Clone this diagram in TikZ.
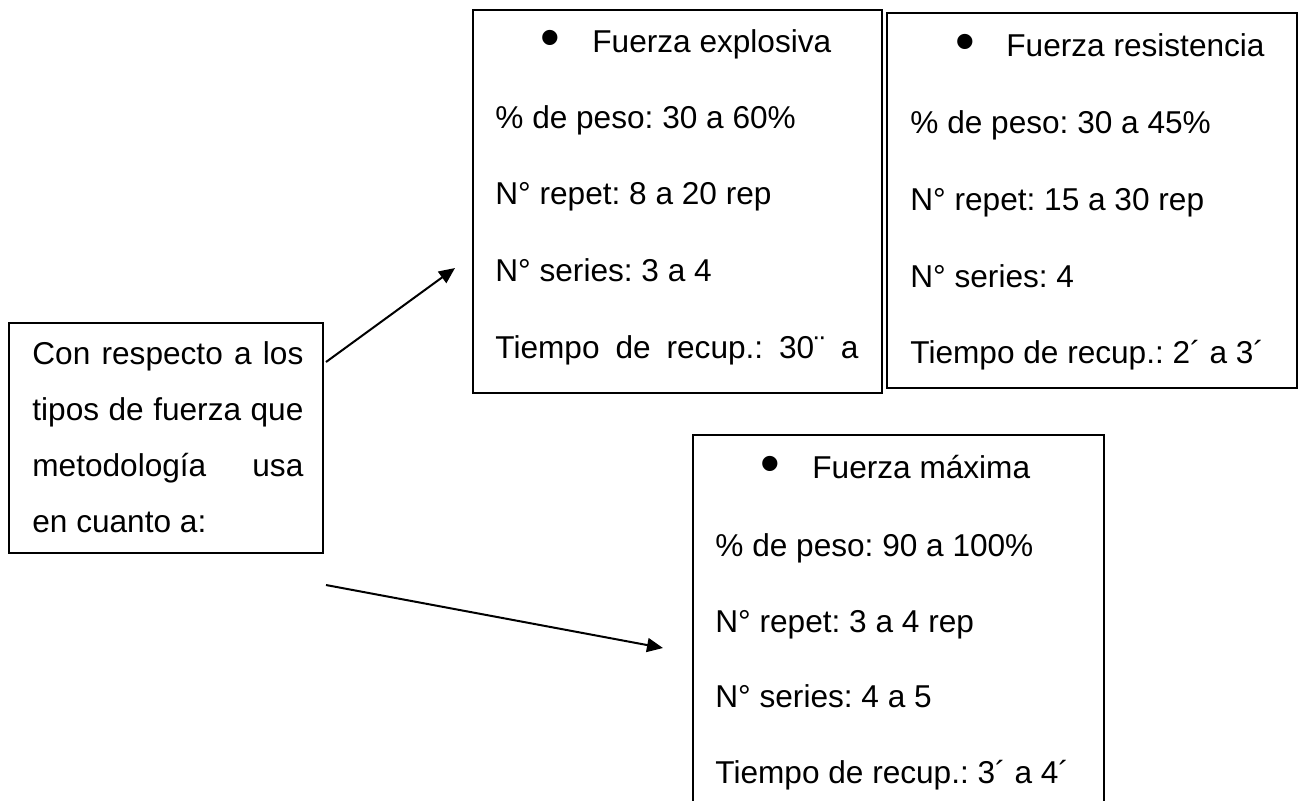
\documentclass[tikz,border=0pt]{standalone}
\usepackage{fontspec}
\setmainfont{Liberation Sans}
\usetikzlibrary{arrows.meta}
\frenchspacing
\begin{document}
\begin{tikzpicture}[x=0.5pt,y=-0.5pt,
  box/.style={draw=black, line width=1pt, inner sep=0pt, rectangle},
  txt/.style={anchor=base west, inner sep=0pt, font=\fontsize{15.8pt}{18pt}\selectfont},
  bul/.style={anchor=center, inner sep=0pt, font=\fontsize{28pt}{28pt}\selectfont},
  conn/.style={-{Triangle[length=8pt,width=7pt]}, line width=1pt}]
\useasboundingbox (0,0) rectangle (1300,800);
\fill[white] (0,0) rectangle (1300,800);

% boxes
\node[box, minimum width=157pt, minimum height=115pt] (left) at (166,438) {};
\node[box, minimum width=204.5pt, minimum height=191.5pt] (expl) at (677.5,201.5) {};
\node[box, minimum width=205pt, minimum height=187.5pt] (resi) at (1092,200.5) {};
\node[box, minimum width=205.5pt, minimum height=187.5pt] (maxi) at (898.5,622.5) {};

% left box text
\node[txt] (l1) at (32,364) {\makebox[135.5pt][s]{Con respecto a los}};
\node[txt] (l2) at (32,420) {\makebox[135.5pt][s]{tipos de fuerza que}};
\node[txt] (l3) at (32,476) {\makebox[135.5pt][s]{metodología usa}};
\node[txt] (l4) at (32,532) {en cuanto a:};

% Fuerza explosiva
\node[bul] (eb) at (550,43) {•};
\node[txt] (e0) at (592,52) {Fuerza explosiva};
\node[txt] (e1) at (495,128) {\% de peso: 30 a 60\%};
\node[txt] (e2) at (495,204) {N° repet: 8 a 20 rep};
\node[txt] (e3) at (495,281) {N° series: 3 a 4};
\node[txt] (e4) at (495,358) {\makebox[181.5pt][s]{Tiempo de recup.: 30¨ a}};

% Fuerza resistencia
\node[bul] (rb) at (965,47) {•};
\node[txt] (r0) at (1006,56) {Fuerza resistencia};
\node[txt] (r1) at (910,133) {\% de peso: 30 a 45\%};
\node[txt] (r2) at (910,210) {N° repet: 15 a 30 rep};
\node[txt] (r3) at (910,287) {N° series: 4};
\node[txt] (r4) at (910,363) {Tiempo de recup.: 2´ a 3´};

% Fuerza maxima
\node[bul] (mb) at (770,469) {•};
\node[txt] (m0) at (812,478) {Fuerza máxima};
\node[txt] (m1) at (715,556) {\% de peso: 90 a 100\%};
\node[txt] (m2) at (715,632) {N° repet: 3 a 4 rep};
\node[txt] (m3) at (715,707) {N° series: 4 a 5};
\node[txt] (m4) at (715,783) {Tiempo de recup.: 3´ a 4´};

% connectors
\coordinate (a1s) at (326,362);
\coordinate (a1e) at (455,268);
\coordinate (a2s) at (326,585);
\coordinate (a2e) at (663,648);
\draw[conn] (a1s) -- (a1e);
\draw[conn] (a2s) -- (a2e);
\end{tikzpicture}
\end{document}
